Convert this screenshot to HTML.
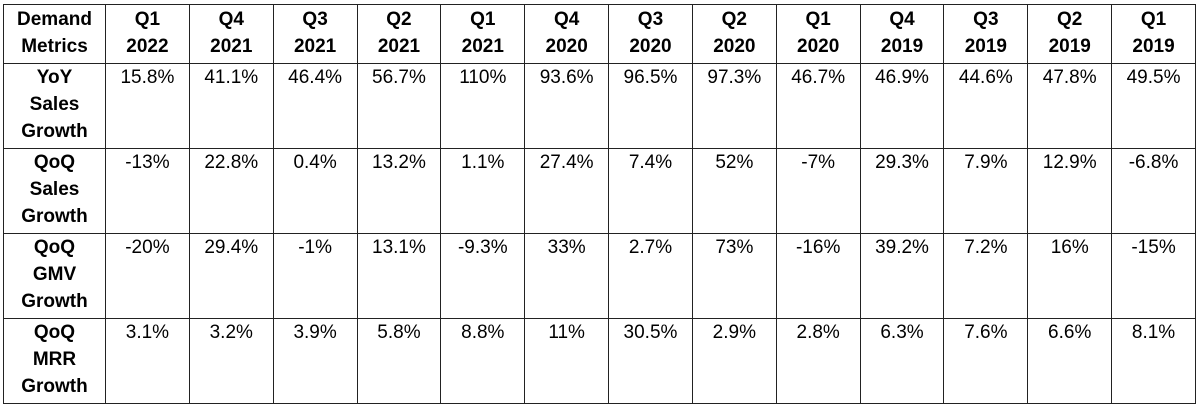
<!DOCTYPE html>
<html><head><style>
body{margin:0;background:#fff;width:1200px;height:408px;overflow:hidden}
table{position:absolute;left:3px;top:4px;border-collapse:collapse;table-layout:fixed;font-family:"Liberation Sans",sans-serif;font-size:19px;color:#000}
td{border:1.5px solid #222;text-align:center;vertical-align:top;padding:0;line-height:27px}
tr.h td{height:57px;font-weight:bold;padding-top:1px}
tr.r td{height:84px;padding-top:0}
td.l{font-weight:bold}
</style></head><body>
<table>
<colgroup><col style="width:102px"><col span="13" style="width:83.85px"></colgroup>
<tr class="h"><td>Demand<br>Metrics</td><td>Q1<br>2022</td><td>Q4<br>2021</td><td>Q3<br>2021</td><td>Q2<br>2021</td><td>Q1<br>2021</td><td>Q4<br>2020</td><td>Q3<br>2020</td><td>Q2<br>2020</td><td>Q1<br>2020</td><td>Q4<br>2019</td><td>Q3<br>2019</td><td>Q2<br>2019</td><td>Q1<br>2019</td></tr>
<tr class="r"><td class="l">YoY<br>Sales<br>Growth</td><td>15.8%</td><td>41.1%</td><td>46.4%</td><td>56.7%</td><td>110%</td><td>93.6%</td><td>96.5%</td><td>97.3%</td><td>46.7%</td><td>46.9%</td><td>44.6%</td><td>47.8%</td><td>49.5%</td></tr>
<tr class="r"><td class="l">QoQ<br>Sales<br>Growth</td><td>-13%</td><td>22.8%</td><td>0.4%</td><td>13.2%</td><td>1.1%</td><td>27.4%</td><td>7.4%</td><td>52%</td><td>-7%</td><td>29.3%</td><td>7.9%</td><td>12.9%</td><td>-6.8%</td></tr>
<tr class="r"><td class="l">QoQ<br>GMV<br>Growth</td><td>-20%</td><td>29.4%</td><td>-1%</td><td>13.1%</td><td>-9.3%</td><td>33%</td><td>2.7%</td><td>73%</td><td>-16%</td><td>39.2%</td><td>7.2%</td><td>16%</td><td>-15%</td></tr>
<tr class="r"><td class="l">QoQ<br>MRR<br>Growth</td><td>3.1%</td><td>3.2%</td><td>3.9%</td><td>5.8%</td><td>8.8%</td><td>11%</td><td>30.5%</td><td>2.9%</td><td>2.8%</td><td>6.3%</td><td>7.6%</td><td>6.6%</td><td>8.1%</td></tr>
</table>
</body></html>
